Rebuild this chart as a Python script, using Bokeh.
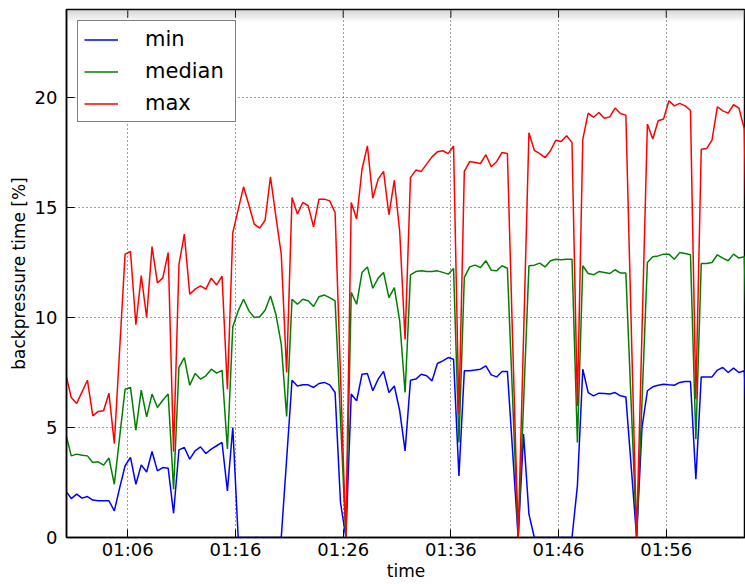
import numpy as np
from bokeh.plotting import figure
from bokeh.models import Range1d, FixedTicker, Legend, LegendItem, BoxAnnotation
from bokeh.embed import file_html
from bokeh.resources import INLINE

# ---- data ----
start_minute = 60.25      # 01:00:15 expressed in minutes after midnight
step_minutes = 0.5        # one sample every 30 s

series_min = [2.12, 1.77, 1.97, 1.79, 1.86, 1.7, 1.67, 1.67, 1.67, 1.21,
              2.27, 3.26, 3.64, 2.42, 3.3, 2.98, 3.91, 3.03, 3.18, 3.15,
              1.1, 3.98, 4.09, 3.56, 3.94, 4.12, 3.82, 4.02, 4.17, 4.32,
              2.12, 5.0, 0, 0, 0, 0, 0, 0, 0, 0,
              0, 3.56, 7.15, 6.89, 6.94, 6.94, 6.82, 7.0, 7.05, 6.94,
              6.59, 1.6, 0.0, 6.52, 6.21, 7.42, 7.45, 6.67, 7.2, 7.55,
              6.59, 6.89, 5.76, 3.94, 7.15, 7.2, 7.42, 7.35, 7.12, 7.91,
              8.03, 8.18, 8.1, 2.8, 7.58, 7.58, 7.61, 7.65, 7.8, 7.39,
              7.3, 7.55, 7.55, 3.8, 0.0, 4.7, 1.06, 0, 0, 0,
              0, 0, 0, 0, 0, 2.35, 7.65, 6.59, 6.44, 6.56,
              6.55, 6.52, 6.59, 6.44, 6.39, 3.2, 0.0, 5.0, 6.67, 6.85,
              6.92, 6.97, 6.94, 6.92, 7.05, 7.09, 7.09, 2.65, 7.3, 7.3,
              7.3, 7.61, 7.73, 7.5, 7.7, 7.5, 7.58, 2.8]

series_median = [4.7, 3.71, 3.79, 3.74, 3.71, 3.41, 3.44, 3.29, 3.61, 2.42,
                 4.6, 6.74, 6.82, 4.88, 6.7, 5.48, 6.52, 5.91, 6.24, 6.52,
                 2.2, 7.73, 8.18, 6.92, 7.45, 7.2, 7.35, 7.65, 7.47, 7.6,
                 4.02, 9.58, 10.3, 10.83, 10.3, 10.0, 10.03, 10.33, 10.98, 10.15,
                 8.79, 5.5, 10.83, 10.6, 10.83, 10.76, 10.5, 10.94, 11.02, 10.9,
                 10.76, 5.4, 0.0, 11.14, 10.6, 12.05, 12.3, 11.33, 11.79, 12.05,
                 10.9, 11.36, 9.85, 6.59, 11.94, 12.09, 12.12, 12.09, 12.09, 12.12,
                 12.05, 11.97, 12.23, 4.32, 11.82, 12.3, 12.38, 12.27, 12.58, 12.15,
                 12.12, 12.35, 12.24, 6.1, 0.0, 6.1, 12.35, 12.38, 12.47, 12.3,
                 12.58, 12.65, 12.62, 12.65, 12.65, 4.32, 12.35, 12.0, 11.94, 12.09,
                 12.05, 12.0, 12.17, 12.02, 12.02, 6.0, 0.0, 6.2, 12.5, 12.76,
                 12.8, 12.88, 12.88, 12.65, 12.95, 12.91, 12.85, 4.47, 12.45, 12.45,
                 12.5, 12.85, 12.7, 12.58, 12.88, 12.7, 12.76, 4.3]

series_max = [7.42, 6.36, 6.09, 6.62, 7.15, 5.53, 5.73, 5.76, 6.56, 4.27,
              8.6, 12.88, 13.0, 9.67, 11.9, 10.0, 13.22, 11.57, 11.8, 12.95,
              3.9, 12.4, 13.79, 11.06, 11.29, 11.44, 11.29, 11.79, 11.48, 11.88,
              6.74, 13.86, 14.9, 15.94, 15.1, 14.24, 14.06, 14.42, 16.39, 14.6,
              12.88, 7.5, 15.45, 14.7, 15.23, 15.08, 14.12, 15.38, 15.38, 15.3,
              14.77, 7.4, 0.0, 15.23, 14.48, 16.74, 17.8, 15.42, 16.29, 16.64,
              14.67, 16.24, 13.9, 9.0, 16.36, 16.7, 16.64, 16.97, 17.3, 17.53,
              17.58, 17.45, 17.8, 5.6, 16.64, 17.09, 17.05, 17.0, 17.4, 16.85,
              17.08, 17.5, 17.45, 8.7, 0.0, 9.1, 18.4, 17.6, 17.45, 17.27,
              17.58, 18.06, 18.0, 18.26, 17.95, 5.98, 18.1, 19.29, 19.1, 19.32,
              19.06, 19.12, 19.52, 19.27, 19.2, 9.6, 0.0, 9.4, 18.79, 18.11,
              18.94, 19.02, 19.85, 19.62, 19.73, 19.62, 19.42, 6.29, 17.65, 17.68,
              18.06, 19.58, 19.39, 19.29, 19.67, 19.52, 18.56, 6.0]

x_tick_values = [66, 76, 86, 96, 106, 116]
x_tick_labels = ["01:06", "01:16", "01:26", "01:36", "01:46", "01:56"]
y_tick_values = [0, 5, 10, 15, 20]

times = start_minute + step_minutes * np.arange(len(series_max))

FONT = "DejaVu Sans"
Y_TOP = 24
X_START, X_END = 60.308, 123.36
PX_PER_UNIT = 22.0

p = figure(width=745, height=584,
           x_range=Range1d(X_START, X_END), y_range=Range1d(0, Y_TOP),
           output_backend="svg", toolbar_location=None,
           min_border_left=66, min_border_right=0,
           min_border_top=9, min_border_bottom=47)
p.background_fill_color = "white"
p.border_fill_color = "white"
p.outline_line_color = "black"
p.outline_line_width = 1.5

r_min = p.line(times, series_min, line_color="#0000ff", line_width=1.5)
r_med = p.line(times, series_median, line_color="#008000", line_width=1.5)
r_max = p.line(times, series_max, line_color="#ff0000", line_width=1.5)

# inward tick marks along the top edge (matplotlib draws ticks on all sides)
tick_len_units = 8 / PX_PER_UNIT
p.segment(x0=x_tick_values, y0=[Y_TOP] * len(x_tick_values),
          x1=x_tick_values, y1=[Y_TOP - tick_len_units] * len(x_tick_values),
          line_color="black", line_width=1)

overrides = {v: l for v, l in zip(x_tick_values, x_tick_labels)}

xa = p.xaxis[0]
xa.ticker = FixedTicker(ticks=x_tick_values)
xa.major_label_overrides = overrides
xa.axis_label = "time"
ya = p.yaxis[0]
ya.ticker = FixedTicker(ticks=y_tick_values)
ya.axis_label = "backpressure time [%]"

for ax in (xa, ya):
    ax.major_tick_in = 8
    ax.major_tick_out = 0
    ax.minor_tick_in = 0
    ax.minor_tick_out = 0
    ax.minor_tick_line_color = None
    ax.major_tick_line_color = "black"
    ax.major_tick_line_width = 1
    ax.axis_line_color = "black"
    ax.axis_line_width = 1.5
    ax.major_label_text_font = FONT
    ax.major_label_text_font_size = "18px"
    ax.major_label_text_color = "black"
    ax.axis_label_text_font = FONT
    ax.axis_label_text_font_size = "17px"
    ax.axis_label_text_font_style = "normal"
    ax.axis_label_text_color = "black"

xa.major_label_standoff = 1
xa.axis_label_standoff = -2
ya.major_label_standoff = 9
ya.axis_label_standoff = 3

p.xgrid.ticker = FixedTicker(ticks=x_tick_values)
p.ygrid.ticker = FixedTicker(ticks=[5, 10, 15, 20])
for g in (p.xgrid, p.ygrid):
    g.grid_line_color = "black"
    g.grid_line_alpha = 0.75
    g.grid_line_width = 1
    g.grid_line_dash = "1 3"

# faint shadow across the top edge of the frame
for k in range(1, 7):
    p.add_layout(BoxAnnotation(top=Y_TOP, bottom=Y_TOP - 2 * k / PX_PER_UNIT,
                               fill_color="#808080", fill_alpha=0.06,
                               line_color=None))

legend = Legend(items=[LegendItem(label="min", renderers=[r_min]),
                       LegendItem(label="median", renderers=[r_med]),
                       LegendItem(label="max", renderers=[r_max])],
                location="top_left")
legend.label_text_font = FONT
legend.label_text_font_size = "21px"
legend.label_text_color = "black"
legend.border_line_color = "black"
legend.border_line_width = 1.5
legend.background_fill_color = "white"
legend.background_fill_alpha = 1.0
legend.glyph_width = 34
legend.glyph_height = 21
legend.label_height = 21
legend.label_width = 84
legend.label_standoff = 27
legend.padding = 6
legend.spacing = 8
legend.margin = 11
p.add_layout(legend)

open("out.html", "w").write(file_html(p, INLINE))
